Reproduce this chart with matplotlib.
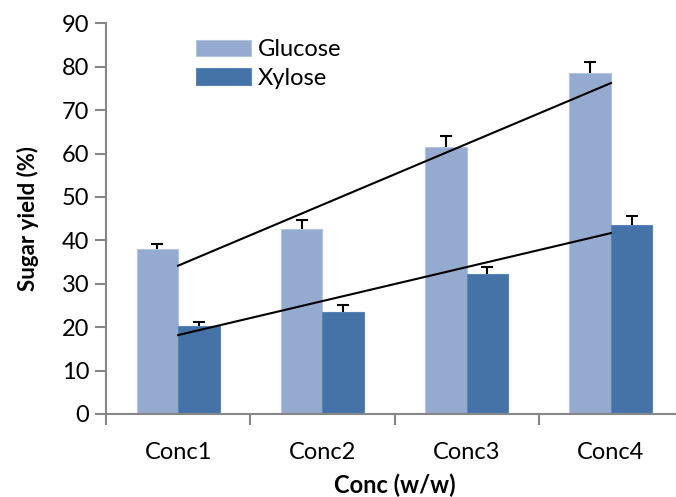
import numpy as np
from matplotlib import pyplot as plt
from matplotlib import ticker

plt.rcParams['font.family'] = ['Lato', 'DejaVu Sans']

########## data ##########
categories = ['Conc1', 'Conc2', 'Conc3', 'Conc4']
glucose = [38.1, 42.6, 61.6, 78.5]
glucose_err = [1.1, 2.2, 2.4, 2.5]
xylose = [20.3, 23.6, 32.3, 43.5]
xylose_err = [0.9, 1.5, 1.5, 2.2]

c_glu = '#95AACF'
c_xyl = '#4573A7'
c_axis = '#868686'

fig = plt.figure(figsize=(6.76, 4.97), dpi=100)
ax = fig.add_axes([106/676, 1-414/497, 577/676, (414-23.3)/497])

x = np.arange(len(categories))
w = 0.288
ax.bar(x - w/2, glucose, w, color=c_glu, edgecolor='#B4C4E0', linewidth=0.8, label='Glucose')
ax.bar(x + w/2, xylose, w, color=c_xyl, edgecolor='#5A85B8', linewidth=0.8, label='Xylose')

# upper error bars only
for xs, vals, err in ((x - w/2, glucose, glucose_err), (x + w/2, xylose, xylose_err)):
    _, caps, _ = ax.errorbar(xs, vals, yerr=[np.zeros(4), err], fmt='none',
                             ecolor='black', elinewidth=1.5, capsize=4.3, capthick=1.5)
    caps[0].set_visible(False)

# linear trend lines (fit over category index)
for vals in (glucose, xylose):
    a, b = np.polyfit(x, vals, 1)
    ax.plot(x, a*x + b, color='black', linewidth=1.5)

ax.set_xlim(-0.5, 3.5)
ax.set_ylim(0, 90)
ax.yaxis.set_major_locator(ticker.MultipleLocator(10))

ax.set_xticks(x)
ax.set_xticklabels(categories)
ax.set_xticks(np.arange(-0.5, 4.0, 1.0), minor=True)
ax.tick_params(axis='x', which='major', length=0, pad=20, labelsize=17)
ax.tick_params(axis='x', which='minor', length=8, width=1.5, color=c_axis, direction='out')
ax.tick_params(axis='y', which='major', length=8, width=1.5, color=c_axis, labelsize=17, pad=4)

for s in ('top', 'right'):
    ax.spines[s].set_visible(False)
for s in ('left', 'bottom'):
    ax.spines[s].set_color(c_axis)
    ax.spines[s].set_linewidth(1.5)

ax.set_xlabel('Conc (w/w)', fontsize=17, fontweight='bold', labelpad=8)
ax.set_ylabel('Sugar yield (%)', fontsize=16, fontweight='bold', labelpad=16)

ax.legend(loc='upper left', bbox_to_anchor=(0.12, 1.013), frameon=False, fontsize=17,
          handlelength=2.3, handleheight=0.7, handletextpad=0.3, labelspacing=0.3)

plt.savefig('out.png', dpi=100)
